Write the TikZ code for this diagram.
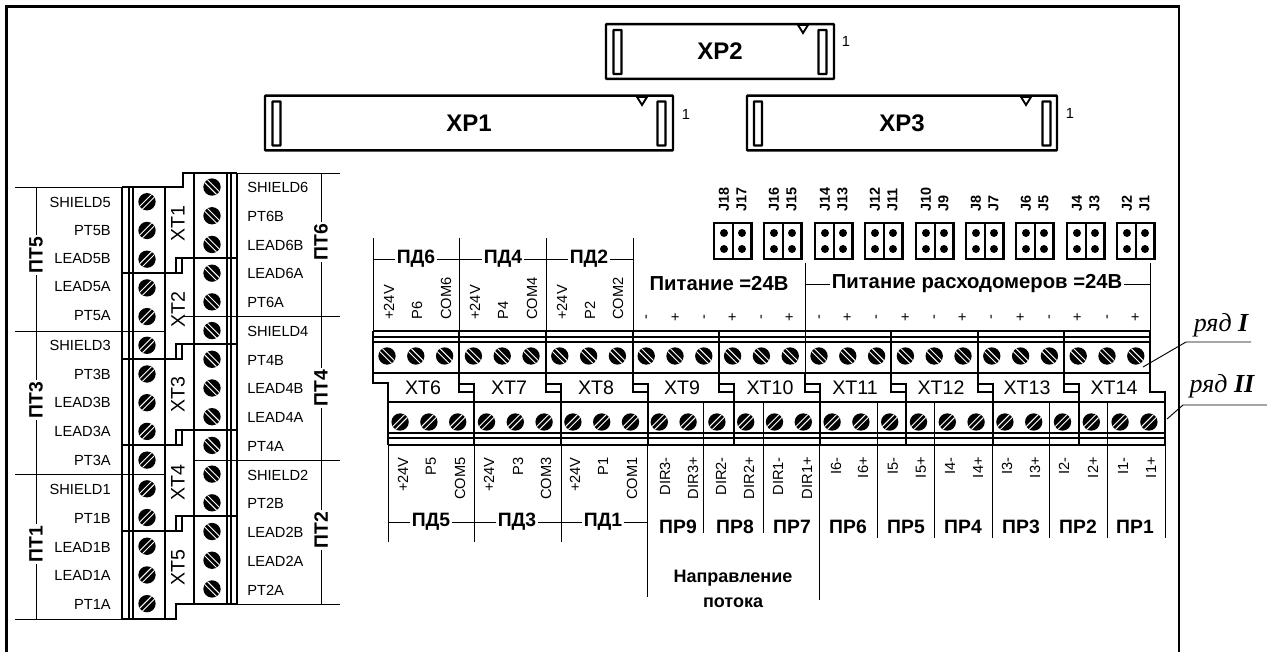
\documentclass[tikz,border=0pt]{standalone}
\usepackage{fontspec}
\setmainfont{Liberation Sans}
\newfontfamily\ryadfont{Liberation Serif}
\usetikzlibrary{matrix}

\tikzset{
  thinwire/.style={line width=0.7pt},
  stripwall/.style={line width=1.4pt},
  stripline/.style={line width=2.1pt},
  pinlabel/.style={inner sep=0pt,font=\fontsize{11}{12}\selectfont},
  vpin/.style={pinlabel,rotate=90},
  grouplabel/.style={inner sep=1.5pt,fill=white,font=\bfseries\fontsize{14.5}{16}\selectfont},
  powerlabel/.style={grouplabel,font=\bfseries\fontsize{15.2}{17}\selectfont},
  blocklabel/.style={inner sep=0pt,font=\fontsize{14.7}{16}\selectfont},
  jumperlabel/.style={inner sep=0pt,rotate=90,anchor=west,font=\bfseries\fontsize{10.8}{12}\selectfont},
  connector/.style={draw,line width=1.8pt,inner sep=0pt,rounded corners=0.5pt,font=\bfseries\fontsize{18}{20}\selectfont},
  bar/.style={draw,line width=1.8pt,inner sep=0pt,minimum width=6pt,minimum height=33pt,rounded corners=0.5pt},
  keymark/.style={draw,line width=1.4pt,fill=white},
  pinhole/.style={circle,fill=black,inner sep=0pt,minimum size=6pt},
  screwa/.style={circle,fill=black,inner sep=0pt,minimum size=13pt,
    path picture={\draw[white,line width=0.7pt] (-8pt,10.1pt) -- (8pt,-5.9pt) (-8pt,5.9pt) -- (8pt,-10.1pt);}},
  screwb/.style={circle,fill=black,inner sep=0pt,minimum size=13pt,
    path picture={\draw[white,line width=0.7pt] (-8pt,-5.9pt) -- (8pt,10.1pt) (-8pt,-10.1pt) -- (8pt,5.9pt);}},
  ryad/.style={inner sep=0pt,font=\ryadfont\itshape\fontsize{19.5}{21}\selectfont}
}

\begin{document}
\begin{tikzpicture}[x=0.75pt,y=-0.75pt]
  \useasboundingbox (0,0) rectangle (1267,652);

  % frame, open at the bottom
  \draw[line width=1.6pt] (6.5,652) -- (6.5,6.5) -- (1179,6.5) -- (1179,652);

  % connectors
  \node (xp2) [connector,minimum width=171pt,minimum height=41pt] at (720,51.5) {XP2};
  \node (xp1) [connector,minimum width=306pt,minimum height=41pt] at (469,123) {XP1};
  \node (xp3) [connector,minimum width=232.5pt,minimum height=41pt] at (902,123) {XP3};
  \node (xp2-l) [bar] at (617.5,52) {};
  \node (xp2-r) [bar] at (822.5,52) {};
  \node (xp1-l) [bar] at (276.5,123.5) {};
  \node (xp1-r) [bar] at (661.5,123.5) {};
  \node (xp3-l) [bar] at (758,123.5) {};
  \node (xp3-r) [bar] at (1046.5,123.5) {};
  \draw[keymark] (798,25) -- (803,33) -- (808,25) -- cycle;
  \draw[keymark] (637,97) -- (642,105) -- (647,97) -- cycle;
  \draw[keymark] (1021,97) -- (1026,105) -- (1031,97) -- cycle;
  \node (one2) [pinlabel] at (846,41) {1};
  \node (one1) [pinlabel] at (686,114) {1};
  \node (one3) [pinlabel] at (1070,113) {1};

  % jumpers
  \foreach \jx/\ja/\jb in {714/J18/J17,764/J16/J15,815/J14/J13,865/J12/J11,916/J10/J9,966/J8/J7,1016/J6/J5,1067/J4/J3,1117/J2/J1} {
    \draw[line width=1.9pt] (\jx,223) rectangle (\jx+37.5,259) (\jx+19,223) -- (\jx+19,259);
    \node (hole-\ja-a) [pinhole] at (\jx+10,233) {};
    \node (hole-\ja-b) [pinhole] at (\jx+10,249) {};
    \node (hole-\jb-a) [pinhole] at (\jx+28,233) {};
    \node (hole-\jb-b) [pinhole] at (\jx+28,249) {};
    \node (name-\ja) [jumperlabel] at (\jx+10,212) {\ja};
    \node (name-\jb) [jumperlabel] at (\jx+27.5,212) {\jb};
  }

  % thin lines of the top signals
  \foreach \gx in {373,459,546,633} {
    \draw[thinwire] (\gx,238) -- (\gx,331);
  }
  \draw[thinwire] (373,259) -- (633,259);
  \draw[thinwire] (805,263) -- (805,331) (1150,263) -- (1150,331) (805,284) -- (1150,284);
  \node (pd6) [grouplabel] at (416,259) {ПД6};
  \node (pd4) [grouplabel] at (503,259) {ПД4};
  \node (pd2) [grouplabel] at (589,259) {ПД2};
  \node (pow) [powerlabel] at (719,284) {Питание =24В};
  \node (powf) [powerlabel] at (977,284) {Питание расходомеров =24В};

  % thin lines of the bottom signals
  \foreach \gx in {388,474,561} {
    \draw[thinwire] (\gx,445) -- (\gx,542);
  }
  \draw[thinwire] (647,445) -- (647,597) (819,445) -- (819,600) (388,522) -- (647,522);
  \draw[thinwire] (703,402) -- (703,533) (763,402) -- (763,533);
  \foreach \gx in {877,934,1049,1107} {
    \draw[thinwire] (\gx,402) -- (\gx,538);
  }
  \draw[thinwire] (992,445) -- (992,538) (1165,445) -- (1165,538);
  \node (pd5) [grouplabel] at (431,522) {ПД5};
  \node (pd3) [grouplabel] at (517,522) {ПД3};
  \node (pd1) [grouplabel] at (603,522) {ПД1};
  \foreach \px/\pn in {678/9,735/8,792/7,848/6,906/5,963/4,1021/3,1078/2,1135/1} {
    \node (pr\pn) [grouplabel,inner sep=0pt] at (\px,527) {ПР\pn};
  }
  \node (dirflow) [align=center,inner sep=0pt,font=\bfseries\fontsize{13.5}{19}\selectfont] at (733,589) {Направление\\потока};

  % terminal strip, both rows
  \draw[stripline] (373,331) -- (1150,331) (373,337) -- (1150,337) (373,342) -- (1150,342) (373,373) -- (1150,373);
  \draw[stripline] (388,402) -- (1165,402) (388,433) -- (1165,433) (388,438) -- (1165,438) (388,445) -- (1165,445);
  \draw[stripline] (373,331) -- (373,383) -- (388,383) -- (388,445);
  \draw[stripline] (1150,331) -- (1150,392) -- (1165,392) -- (1165,445);
  \foreach \bx in {459,546,633,719,891,978,1064} {
    \draw[stripline] (\bx,331) -- (\bx,392) -- (\bx+15,392) (\bx,384) -- (\bx+15,384) -- (\bx+15,445);
  }
  \draw[thinwire] (805,331) -- (805,373);
  \draw[stripline] (805,373) -- (805,392) -- (820,392) (805,384) -- (820,384) -- (820,445);
  \foreach \bx/\bn in {423/6,509/7,596/8,682/9,770/10,855/11,941/12,1027/13,1114/14} {
    \node (xt\bn) [blocklabel] at (\bx,388) {XT\bn};
  }

  % side strip
  \draw[stripline] (122,187) -- (122,619) (129,187) -- (129,619) (133,187) -- (133,619);
  \draw[stripwall] (165,187) -- (165,619) (194,173) -- (194,604);
  \draw[stripline] (227,173) -- (227,604) (231,173) -- (231,604) (237,173) -- (237,604);
  \draw[stripline] (122,187) -- (183,187) -- (183,173) -- (237,173);
  \draw[stripline] (122,619) -- (176,619) -- (176,604) -- (237,604);
  \foreach \by in {273,359,445,531} {
    \draw[stripline] (122,\by) -- (182,\by) -- (182,\by-15) (176,\by) -- (176,\by-15) -- (237,\by-15);
  }
  \foreach \by/\bn in {224/1,310/2,395/3,483/4,568/5} {
    \node (xt\bn) [blocklabel,rotate=90] at (178,\by) {XT\bn};
  }

  % thin lines of the side signals
  \draw[thinwire] (15,187) -- (122,187) (15,331) -- (165,331) (15,474) -- (165,474) (15,619) -- (122,619) (36,187) -- (36,619);
  \draw[thinwire] (237,173) -- (340,173) (183,316) -- (340,316) (193,460) -- (340,460) (237,604) -- (340,604) (321,173) -- (321,604);
  \foreach \gy/\gn in {255/5,400/3,544/1} {
    \node (pt\gn) [grouplabel,rotate=90] at (36,\gy) {ПТ\gn};
  }
  \foreach \gy/\gn in {242/6,388/4,530/2} {
    \node (pt\gn) [grouplabel,rotate=90] at (321,\gy) {ПТ\gn};
  }
  \foreach \ly/\lt in {202/SHIELD5,231/PT5B,259/LEAD5B,287/LEAD5A,316/PT5A,345/SHIELD3,374/PT3B,402/LEAD3B,431/LEAD3A,460/PT3A,489/SHIELD1,518/PT1B,547/LEAD1B,575/LEAD1A,604/PT1A} {
    \node (wire-\lt) [pinlabel,anchor=east] at (111,\ly) {\lt};
  }
  \foreach \ly/\lt in {187/SHIELD6,216/PT6B,245/LEAD6B,273/LEAD6A,302/PT6A,331/SHIELD4,360/PT4B,388/LEAD4B,417/LEAD4A,446/PT4A,475/SHIELD2,503/PT2B,532/LEAD2B,561/LEAD2A,590/PT2A} {
    \node (wire-\lt) [pinlabel,anchor=west] at (247,\ly) {\lt};
  }

  % screws
  \matrix (rowI) [matrix of nodes,nodes={screwa},column sep=8.6pt,ampersand replacement=\&] at (761.4,356) {
    {} \& {} \& {} \& {} \& {} \& {} \& {} \& {} \& {} \& {} \& {} \& {} \& {} \& {} \& {} \& {} \& {} \& {} \& {} \& {} \& {} \& {} \& {} \& {} \& {} \& {} \& {} \\
  };
  \matrix (rowII) [matrix of nodes,nodes={screwb},column sep=8.6pt,ampersand replacement=\&] at (774.5,422) {
    {} \& {} \& {} \& {} \& {} \& {} \& {} \& {} \& {} \& {} \& {} \& {} \& {} \& {} \& {} \& {} \& {} \& {} \& {} \& {} \& {} \& {} \& {} \& {} \& {} \& {} \& {} \\
  };
  \matrix (colL) [matrix of nodes,nodes={screwb},row sep=8.53pt,ampersand replacement=\&] at (147,402.7) {
    {} \\ {} \\ {} \\ {} \\ {} \\ {} \\ {} \\ {} \\ {} \\ {} \\ {} \\ {} \\ {} \\ {} \\ {} \\
  };
  \matrix (colR) [matrix of nodes,nodes={screwa},row sep=8.53pt,ampersand replacement=\&] at (212,388) {
    {} \\ {} \\ {} \\ {} \\ {} \\ {} \\ {} \\ {} \\ {} \\ {} \\ {} \\ {} \\ {} \\ {} \\ {} \\
  };

  % pin names above and below the strip
  \foreach \px/\pt in {389/+24V,417/P6,446/COM6,475/+24V,503/P4,532/COM4,562/+24V,590/P2,618/COM2} {
    \node (top-\px) [vpin,anchor=west] at (\px,320) {\pt};
  }
  \foreach \px/\pt in {648/-,676/+,706/-,733/+,763/-,790/+,821/-,848/+,878/-,906/+,936/-,963/+,993/-,1021/+,1051/-,1078/+,1109/-,1136/+} {
    \node (sign-\px) [vpin] at (\px,317) {\pt};
  }
  \foreach \px/\pt in {403/+24V,431/P5,460/COM5,489/+24V,518/P3,546/COM3,575/+24V,603/P1,632/COM1,665/DIR3-,693/DIR3+,721/DIR2-,749/DIR2+,778/DIR1-,807/DIR1+,836/I6-,863/I6+,893/I5-,921/I5+,950/I4-,978/I4+,1007/I3-,1035/I3+,1064/I2-,1093/I2+,1123/I1-,1151/I1+} {
    \node (bot-\px) [vpin,anchor=east] at (\px,457) {\pt};
  }

  % row names with their leaders
  \node (ryad1) [ryad,anchor=base] at (1221,331) {ряд \textbf{I}};
  \node (ryad2) [ryad,anchor=base] at (1222,392) {ряд \textbf{II}};
  \coordinate (tip1) at (1143,367);
  \coordinate (tip2) at (1167,419);
  \coordinate (elbow1) at (1186,342);
  \coordinate (elbow2) at (1183,405);
  \coordinate (end1) at (1251,342);
  \coordinate (end2) at (1267,405);
  \draw[thinwire] (tip1) -- (elbow1) -- (end1);
  \draw[thinwire] (tip2) -- (elbow2) -- (end2);
\end{tikzpicture}
\end{document}
